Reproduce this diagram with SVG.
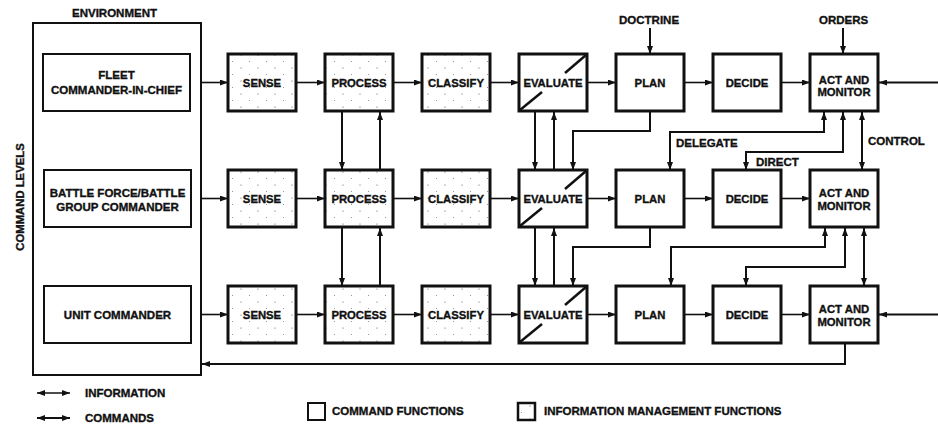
<svg xmlns="http://www.w3.org/2000/svg" width="938" height="424" viewBox="0 0 938 424">
<style>
.box{fill:#fff;stroke:#111;stroke-width:3}
.info{fill:url(#dots)}
.env{fill:#fff;stroke:#111;stroke-width:2}
.t{font-family:"Liberation Sans",Arial,sans-serif;font-weight:bold;font-size:11.3px;fill:#111;stroke:#111;stroke-width:0.35;text-anchor:middle}
.l{font-family:"Liberation Sans",Arial,sans-serif;font-weight:bold;font-size:11.5px;fill:#111;stroke:#111;stroke-width:0.35}
.c{fill:none;stroke:#111;stroke-width:2}
.h{fill:none;stroke:#111;stroke-width:1.6;marker-end:url(#ah)}
.d{marker-start:url(#ah);marker-end:url(#ah)}
.e{marker-end:url(#ah)}
.diag{stroke:#111;stroke-width:2.5}
</style>
<defs>
<marker id="ah" viewBox="0 0 8 6" refX="8" refY="3" markerWidth="8" markerHeight="6" markerUnits="userSpaceOnUse" orient="auto-start-reverse"><path d="M0,0 L8,3 L0,6 z" fill="#111"/></marker>
<pattern id="dots" width="17" height="13" patternUnits="userSpaceOnUse"><rect width="17" height="13" fill="#fff"/><circle cx="3" cy="3" r="0.6" fill="#555"/><circle cx="11.5" cy="9.5" r="0.5" fill="#777"/></pattern>
</defs>

<text class="l" x="114.5" y="17" text-anchor="middle">ENVIRONMENT</text>
<text class="t" transform="rotate(-90 20 197)" x="20" y="201">COMMAND LEVELS</text>

<g id="environment"><rect class="env" x="33" y="23" width="168" height="352" stroke-width="2.5"/></g>
<g id="fleet"><rect class="env" x="43" y="54" width="147" height="57"/><text class="l" text-anchor="middle" x="116.5" y="79">FLEET</text><text class="l" text-anchor="middle" x="116.5" y="94">COMMANDER-IN-CHIEF</text></g>
<g id="battle"><rect class="env" x="44" y="170" width="147" height="57"/><text class="l" text-anchor="middle" x="117.5" y="197">BATTLE FORCE/BATTLE</text><text class="l" text-anchor="middle" x="117.5" y="211">GROUP COMMANDER</text></g>
<g id="unit"><rect class="env" x="44" y="286" width="147" height="57"/><text class="l" text-anchor="middle" x="117.5" y="319">UNIT COMMANDER</text></g>

<!-- Row 1 -->
<g id="sense1"><rect class="box info" x="228" y="54" width="68" height="57"/><text class="t" x="262" y="87">SENSE</text></g>
<g id="process1"><rect class="box info" x="325" y="54" width="68" height="57"/><text class="t" x="359" y="87">PROCESS</text></g>
<g id="classify1"><rect class="box info" x="422" y="54" width="68" height="57"/><text class="t" x="456" y="87">CLASSIFY</text></g>
<g id="evaluate1"><rect class="box" x="519" y="54" width="68" height="57"/><line class="diag" x1="520" y1="110" x2="542" y2="92"/><line class="diag" x1="565" y1="73" x2="586" y2="55"/><text class="t" x="553" y="87">EVALUATE</text></g>
<g id="plan1"><rect class="box" x="616" y="54" width="68" height="57"/><text class="t" x="650" y="87">PLAN</text></g>
<g id="decide1"><rect class="box" x="713" y="54" width="68" height="57"/><text class="t" x="747" y="87">DECIDE</text></g>
<g id="act1"><rect class="box" x="810" y="54" width="68" height="57"/><text class="t" x="844" y="84">ACT AND</text><text class="t" x="844" y="96">MONITOR</text></g>

<!-- Row 2 -->
<g id="sense2"><rect class="box info" x="228" y="170" width="68" height="57"/><text class="t" x="262" y="203">SENSE</text></g>
<g id="process2"><rect class="box info" x="325" y="170" width="68" height="57"/><text class="t" x="359" y="203">PROCESS</text></g>
<g id="classify2"><rect class="box info" x="422" y="170" width="68" height="57"/><text class="t" x="456" y="203">CLASSIFY</text></g>
<g id="evaluate2"><rect class="box" x="519" y="170" width="68" height="57"/><line class="diag" x1="520" y1="226" x2="542" y2="208"/><line class="diag" x1="565" y1="189" x2="586" y2="171"/><text class="t" x="553" y="203">EVALUATE</text></g>
<g id="plan2"><rect class="box" x="616" y="170" width="68" height="57"/><text class="t" x="650" y="203">PLAN</text></g>
<g id="decide2"><rect class="box" x="713" y="170" width="68" height="57"/><text class="t" x="747" y="203">DECIDE</text></g>
<g id="act2"><rect class="box" x="810" y="170" width="68" height="57"/><text class="t" x="844" y="197">ACT AND</text><text class="t" x="844" y="210">MONITOR</text></g>

<!-- Row 3 -->
<g id="sense3"><rect class="box info" x="228" y="286" width="68" height="57"/><text class="t" x="262" y="319">SENSE</text></g>
<g id="process3"><rect class="box info" x="325" y="286" width="68" height="57"/><text class="t" x="359" y="319">PROCESS</text></g>
<g id="classify3"><rect class="box info" x="422" y="286" width="68" height="57"/><text class="t" x="456" y="319">CLASSIFY</text></g>
<g id="evaluate3"><rect class="box" x="519" y="286" width="68" height="57"/><line class="diag" x1="520" y1="342" x2="542" y2="324"/><line class="diag" x1="565" y1="305" x2="586" y2="287"/><text class="t" x="553" y="319">EVALUATE</text></g>
<g id="plan3"><rect class="box" x="616" y="286" width="68" height="57"/><text class="t" x="650" y="319">PLAN</text></g>
<g id="decide3"><rect class="box" x="713" y="286" width="68" height="57"/><text class="t" x="747" y="319">DECIDE</text></g>
<g id="act3"><rect class="box" x="810" y="286" width="68" height="57"/><text class="t" x="844" y="313">ACT AND</text><text class="t" x="844" y="326">MONITOR</text></g>

<g id="connectors">
<path class="h" d="M201,82.5 H228"/><path class="h" d="M296,82.5 H325"/><path class="h" d="M393,82.5 H422"/><path class="h" d="M490,82.5 H519"/><path class="h" d="M587,82.5 H616"/><path class="h" d="M684,82.5 H713"/><path class="h" d="M781,82.5 H810"/>
<path class="h" d="M201,198.5 H228"/><path class="h" d="M296,198.5 H325"/><path class="h" d="M393,198.5 H422"/><path class="h" d="M490,198.5 H519"/><path class="h" d="M587,198.5 H616"/><path class="h" d="M684,198.5 H713"/><path class="h" d="M781,198.5 H810"/>
<path class="h" d="M201,314.5 H228"/><path class="h" d="M296,314.5 H325"/><path class="h" d="M393,314.5 H422"/><path class="h" d="M490,314.5 H519"/><path class="h" d="M587,314.5 H616"/><path class="h" d="M684,314.5 H713"/><path class="h" d="M781,314.5 H810"/>
<path class="c e" stroke-width="3" d="M938,82.5 H879"/>
<path class="c e" stroke-width="3" d="M938,314.5 H879"/>
<path class="c e" d="M650,28 V54"/>
<path class="c e" d="M843,28 V54"/>
<path class="c e" d="M342,112 V170"/><path class="c e" d="M380,170 V112"/>
<path class="c e" d="M342,228 V286"/><path class="c e" d="M380,286 V228"/>
<path class="c e" d="M535,112 V170"/><path class="c e" d="M554,170 V112"/>
<path class="c e" d="M535,228 V286"/><path class="c e" d="M554,286 V228"/>
<path class="c e" d="M650,112 V131 H573 V170"/>
<path class="c e" d="M650,228 V247 H573 V286"/>
<path class="c d" d="M824,112 V132 H670 V170"/>
<path class="c d" d="M843,112 V152 H746 V170"/>
<path class="c d" d="M862,112 V170"/>
<path class="c d" d="M825,228 V247 H671 V286"/>
<path class="c d" d="M845,228 V267 H746 V286"/>
<path class="c d" d="M864,228 V286"/>
<path class="c e" d="M845,344 V364 H202"/>
</g>

<text class="l" x="619" y="24">DOCTRINE</text>
<text class="l" x="819" y="24">ORDERS</text>
<text class="l" x="676" y="147">DELEGATE</text>
<text class="l" x="756" y="166">DIRECT</text>
<text class="l" x="868" y="145">CONTROL</text>

<g id="legend">
<path class="h d" stroke-width="1.8" d="M37,393 H70"/>
<text class="l" x="85" y="397">INFORMATION</text>
<path class="c d" stroke-width="2.5" d="M37,418 H70"/>
<text class="l" x="85" y="422">COMMANDS</text>
<rect x="308" y="403" width="17" height="17" fill="#fff" stroke="#111" stroke-width="2"/>
<text class="l" x="332" y="415">COMMAND FUNCTIONS</text>
<rect x="518" y="403" width="17" height="17" fill="url(#dots)" stroke="#111" stroke-width="2.5"/>
<text class="l" x="544" y="415">INFORMATION MANAGEMENT FUNCTIONS</text>
</g>
</svg>
